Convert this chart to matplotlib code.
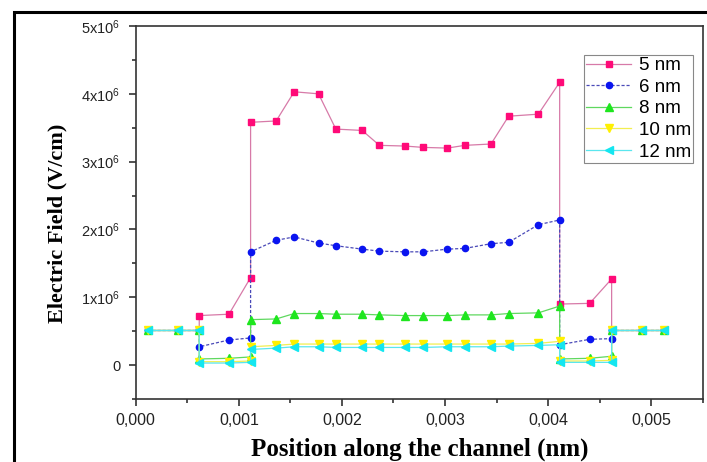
import matplotlib
matplotlib.use("Agg")
import matplotlib.pyplot as plt
from matplotlib.patches import Rectangle
from matplotlib.ticker import MultipleLocator, FuncFormatter

plt.rcParams["font.family"] = ["Liberation Sans", "DejaVu Sans"]
plt.rcParams["mathtext.fontset"] = "custom"
plt.rcParams["mathtext.rm"] = "Liberation Sans"
plt.rcParams["mathtext.it"] = "Liberation Sans:italic"

# Position along the channel; repeated positions mark the abrupt jumps
position = [0.000115, 0.000407, 0.000616, 0.000616, 0.000904, 0.001114,
            0.001114, 0.001362, 0.001537, 0.001773, 0.001941, 0.002196,
            0.002364, 0.002612, 0.002787, 0.003023, 0.003191, 0.003446,
            0.003617, 0.003905, 0.004112, 0.004112, 0.004403, 0.004616,
            0.004616, 0.004910, 0.005120]

# Electric field (units of 1e6 V/cm) for each thickness
field_5nm = [0.51, 0.51, 0.51, 0.73, 0.75, 1.29, 3.58, 3.60, 4.03, 4.00,
             3.48, 3.46, 3.24, 3.23, 3.21, 3.20, 3.24, 3.26, 3.67, 3.70,
             4.17, 0.90, 0.91, 1.27, 0.51, 0.51, 0.51]
field_6nm = [0.51, 0.51, 0.51, 0.27, 0.37, 0.40, 1.67, 1.84, 1.89, 1.80,
             1.76, 1.71, 1.68, 1.67, 1.67, 1.71, 1.72, 1.79, 1.81, 2.07,
             2.14, 0.30, 0.38, 0.39, 0.51, 0.51, 0.51]
field_8nm = [0.51, 0.51, 0.51, 0.09, 0.10, 0.12, 0.67, 0.68, 0.76, 0.76,
             0.75, 0.75, 0.74, 0.73, 0.73, 0.73, 0.74, 0.74, 0.76, 0.77,
             0.87, 0.09, 0.10, 0.13, 0.51, 0.51, 0.51]
field_10nm = [0.51, 0.51, 0.51, 0.05, 0.05, 0.06, 0.27, 0.29, 0.31, 0.31,
              0.31, 0.31, 0.31, 0.31, 0.31, 0.31, 0.31, 0.31, 0.31, 0.32,
              0.35, 0.06, 0.06, 0.07, 0.51, 0.51, 0.51]
field_12nm = [0.51, 0.51, 0.51, 0.03, 0.03, 0.04, 0.23, 0.25, 0.27, 0.27,
              0.26, 0.26, 0.26, 0.26, 0.26, 0.27, 0.27, 0.27, 0.28, 0.29,
              0.30, 0.04, 0.04, 0.04, 0.51, 0.51, 0.51]

labels = ["5 nm", "6 nm", "8 nm", "10 nm", "12 nm"]
series = [field_5nm, field_6nm, field_8nm, field_10nm, field_12nm]
styles = [
    dict(marker="s", mfc="#ff0a78", mec="#ff0a78", color="#d77aa8", ls="-", ms=4.2),
    dict(marker="o", mfc="#0a14f0", mec="#0a14f0", color="#4a4ab8", ls=(0, (2.5, 1.5)), ms=4.5),
    dict(marker="^", mfc="#1ee61e", mec="#1ee61e", color="#5fd85f", ls="-", ms=5.2),
    dict(marker="v", mfc="#fff000", mec="#fff000", color="#f2ee50", ls="-", ms=5.2),
    dict(marker="<", mfc="#14e6f0", mec="#14e6f0", color="#5ae6ee", ls="-", ms=5.2),
]

fig = plt.figure(figsize=(7.07, 4.62), dpi=100)
ax = fig.add_axes([0.192, 0.1364, 0.802, 0.8073])

for lab, vals, st in zip(labels, series, styles):
    ax.plot(position, [v * 1e6 for v in vals], label=lab, lw=0.9, **st)

ax.set_xlim(0, 0.0055)
ax.set_ylim(-0.5e6, 5e6)
ax.xaxis.set_major_locator(MultipleLocator(0.001))
ax.xaxis.set_minor_locator(MultipleLocator(0.0005))
ax.yaxis.set_major_locator(MultipleLocator(1e6))
ax.yaxis.set_minor_locator(MultipleLocator(0.5e6))
ax.xaxis.set_major_formatter(FuncFormatter(lambda v, p: f"{v:.3f}".replace(".", ",")))


def yfmt(v, p):
    n = int(round(v / 1e6))
    if n == 0:
        return "0"
    return r"$\mathregular{%dx10^{6}}$" % n


ax.yaxis.set_major_formatter(FuncFormatter(yfmt))
ax.tick_params(axis="both", which="major", direction="out", length=5, width=1.1,
               colors="#222222")
ax.tick_params(axis="x", which="major", labelsize=11.5, pad=5)
ax.tick_params(axis="y", which="major", labelsize=10.5, pad=6)
ax.tick_params(axis="both", which="minor", direction="out", length=3, width=1.1,
               colors="#222222")
for s in ax.spines.values():
    s.set_linewidth(1.2)
    s.set_color("#333333")

ax.set_xlabel("Position along the channel (nm)", family="Liberation Serif",
              fontweight="bold", fontsize=18, labelpad=7)
ax.set_ylabel("Electric Field (V/cm)", family="Liberation Serif",
              fontweight="bold", fontsize=16)
ax.yaxis.set_label_coords(-0.121, 0.47)

leg = ax.legend(loc="upper right", bbox_to_anchor=(0.983, 0.923), borderaxespad=0,
                fancybox=False, framealpha=1, edgecolor="#888888", fontsize=13.5,
                handlelength=2.4, labelspacing=0.24, handletextpad=0.4,
                borderpad=0.12)
leg.get_frame().set_linewidth(0.8)

# outer frame around the figure area
fig.patches.append(Rectangle((14 / 707, -0.1), 1.2, 1.1 - 12 / 462, transform=fig.transFigure,
                             fill=False, lw=2.2, ec="black", zorder=0))

fig.savefig("out.png", dpi=100)
